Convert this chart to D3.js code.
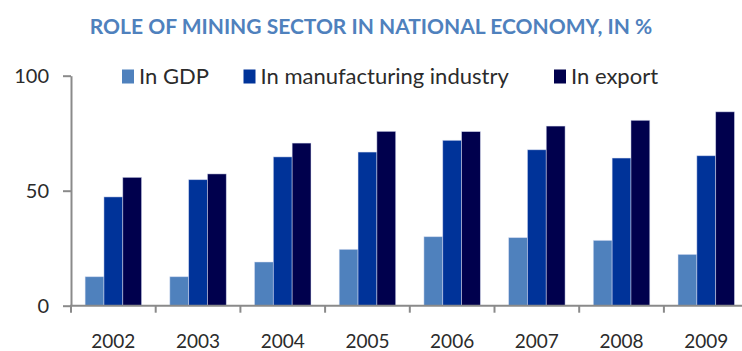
<!DOCTYPE html>
<html>
<head>
<meta charset="utf-8">
<script src="https://cdn.jsdelivr.net/npm/d3@7"></script>
<style>
  html, body { margin: 0; padding: 0; background: #fff; overflow: hidden; }
  svg { display: block; font-family: Lato, "Open Sans", sans-serif; }
</style>
</head>
<body>
<svg id="chart" width="742" height="351"></svg>
<script>
// Share of the mining sector in the national economy, %
const years = ["2002", "2003", "2004", "2005", "2006", "2007", "2008", "2009"];
const seriesNames = ["In GDP", "In manufacturing industry", "In export"];
const inGDP = [12.6, 12.6, 19.0, 24.5, 30.0, 29.6, 28.4, 22.3];
const inManufacturing = [47.3, 54.8, 64.7, 66.8, 71.9, 67.8, 64.2, 65.2];
const inExport = [55.8, 57.3, 70.7, 75.8, 75.7, 78.1, 80.6, 84.3];
const yTicks = [0, 50, 100];
const titleText = "ROLE OF MINING SECTOR IN NATIONAL ECONOMY, IN %";

const seriesValues = [inGDP, inManufacturing, inExport];
const colors = ["#4f81bd", "#003399", "#00004d"];

const svg = d3.select("#chart");

const x0 = d3.scaleBand().domain(years).range([71, 748.6]).paddingInner(1 / 3).paddingOuter(1 / 6);
const x1 = d3.scaleBand().domain(d3.range(seriesNames.length)).range([0, x0.bandwidth()]);
const y = d3.scaleLinear().domain([0, 100]).range([305.7, 75.7]);

// title
svg.append("text")
  .attr("x", 371).attr("y", 33.5)
  .attr("text-anchor", "middle")
  .attr("font-weight", "bold")
  .attr("font-size", 21)
  .attr("fill", "#4f81bd")
  .text(titleText);

// bars
const groups = svg.append("g").selectAll("g")
  .data(years)
  .join("g")
  .attr("transform", d => `translate(${x0(d)},0)`);

groups.selectAll("rect")
  .data((d, i) => seriesValues.map((vals, s) => ({ s, v: vals[i] })))
  .join("rect")
  .attr("x", d => x1(d.s))
  .attr("width", x1.bandwidth())
  .attr("y", d => y(d.v))
  .attr("height", d => y(0) - y(d.v))
  .attr("fill", d => colors[d.s])
  .attr("stroke", "rgba(220,225,245,0.6)")
  .attr("stroke-width", 0.8);

const axisColor = "#8a8a8a";

// y axis
const yAxis = svg.append("g")
  .attr("transform", "translate(71,0)")
  .call(d3.axisLeft(y).tickValues(yTicks).tickSize(8).tickSizeOuter(0).tickPadding(14));
yAxis.select(".domain").attr("stroke", axisColor).attr("stroke-width", 2);
yAxis.selectAll(".tick line").attr("stroke", axisColor).attr("stroke-width", 2);
yAxis.selectAll(".tick text")
  .attr("font-family", "Lato, 'Open Sans', sans-serif")
  .attr("font-size", 20)
  .attr("fill", "#2b2b2b");

// x axis: baseline with ticks at category boundaries
const step = x0.step();
const boundaries = d3.range(years.length + 1).map(i => x0(years[0]) - step * x0.paddingInner() / 2 + i * step);
const xAxis = svg.append("g");
xAxis.append("line")
  .attr("x1", 70).attr("x2", 760)
  .attr("y1", y(0)).attr("y2", y(0))
  .attr("stroke", axisColor).attr("stroke-width", 2);
xAxis.selectAll("line.tick")
  .data(boundaries)
  .join("line")
  .attr("class", "tick")
  .attr("x1", d => d).attr("x2", d => d)
  .attr("y1", y(0)).attr("y2", y(0) + 7)
  .attr("stroke", axisColor).attr("stroke-width", 2);
xAxis.selectAll("text")
  .data(years)
  .join("text")
  .attr("x", d => x0(d) + x0.bandwidth() / 2)
  .attr("y", 347.5)
  .attr("text-anchor", "middle")
  .attr("font-size", 19)
  .attr("fill", "#2b2b2b")
  .text(d => d);

// legend
const legendX = [122, 243.5, 554];
const legend = svg.append("g").selectAll("g")
  .data(seriesNames)
  .join("g")
  .attr("transform", (d, i) => `translate(${legendX[i]},0)`);
legend.append("rect")
  .attr("x", 0).attr("y", 69.5)
  .attr("width", 12).attr("height", 14)
  .attr("fill", (d, i) => colors[i]);
legend.append("text")
  .attr("x", 17).attr("y", 83.5)
  .attr("font-size", 22)
  .attr("fill", "#2b2b2b")
  .text(d => d);
</script>
</body>
</html>
